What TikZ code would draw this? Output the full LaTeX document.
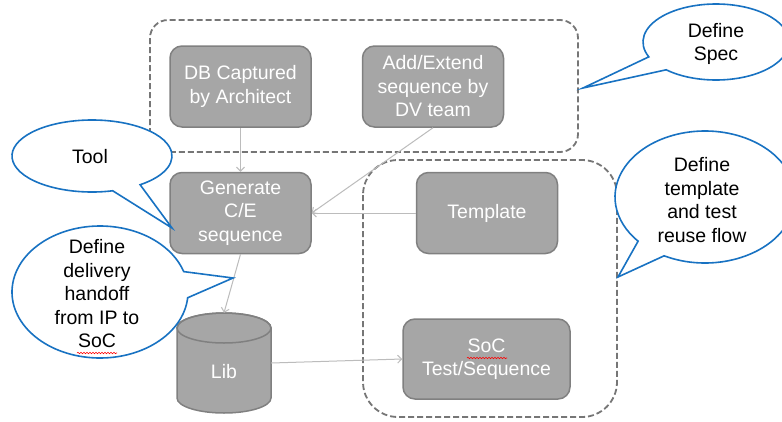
\documentclass[tikz,border=0pt]{standalone}
\usepackage{fontspec}
\setmainfont{Liberation Sans}
\usetikzlibrary{arrows.meta,decorations.pathmorphing}
\definecolor{boxfill}{RGB}{166,166,166}
\definecolor{boxline}{RGB}{128,128,128}
\definecolor{groupline}{RGB}{118,118,118}
\definecolor{linkline}{RGB}{188,188,188}
\definecolor{calloutblue}{RGB}{24,114,194}
\begin{document}
\begin{tikzpicture}[x=1pt,y=1pt,yscale=-1,
  every node/.style={font=\fontsize{19.5}{23.5}\selectfont, align=center, inner sep=0pt},
  stepbox/.style={draw=boxline, line width=1.5pt, fill=boxfill, rounded corners=12pt,
    text=white, minimum width=141pt, minimum height=81pt},
  group/.style={draw=groupline, line width=1.8pt, dash pattern=on 6pt off 3pt, rounded corners=#1},
  link/.style={draw=linkline, line width=1pt, -{Straight Barb[length=4pt,width=8pt]}},
  callout/.style={draw=calloutblue, line width=1.6pt, fill=white, line join=miter},
  callouttext/.style={text=black},
  spell/.style={draw=red, line width=0.6pt, decorate,
    decoration={snake, amplitude=0.7pt, segment length=3pt}}
]
% canvas
\fill[white] (0,0) rectangle (782,421);
\useasboundingbox (0,0) rectangle (782,421);

% dashed groupings
\draw[group=18pt] (150,20) rectangle (578,152);
\draw[group=35pt] (363,160) rectangle (617,417);

% process steps
\node[stepbox] (db)   at (240.5,86.5) {DB Captured\\by Architect};
\node[stepbox] (dv)   at (433,86.5)   {Add/Extend\\sequence by\\DV team};
\node[stepbox] (gen)  at (240.5,213)  {Generate\\C/E\\sequence};
\node[stepbox] (tmpl) at (487,213)    {Template};
\node[stepbox, minimum width=167pt, minimum height=80pt] (soc) at (486.5,359) {SoC\\Test/Sequence};

% library cylinder
\filldraw[draw=boxline, line width=1.5pt, fill=boxfill]
  (177,328) -- (177,398) arc[start angle=180, end angle=0, x radius=47, y radius=15]
  -- (271,328) arc[start angle=0, end angle=-180, x radius=47, y radius=15] -- cycle;
\draw[draw=boxline, line width=1.5pt] (224,328) ellipse [x radius=47, y radius=15];
\node[minimum width=94pt, minimum height=100pt] (lib) at (224,363) {};
\node[text=white] (libtext) at (224,372) {Lib};

% flow
\draw[link] (db.south) -- (gen.north);
\draw[link] (dv.south) -- (gen.east);
\draw[link] (tmpl.west) -- (gen.east);
\draw[link] (gen.south) -- (lib.north);
\draw[link] (lib.east) -- (soc.west);

% spell-check marks
\draw[spell] (467,358) -- (507,358);

% callouts
\coordinate (toolc) at (92,156);
\coordinate (tooltip) at (172,228);
\path[callout] ([shift={(53:80 and 36)}]toolc) -- (tooltip) -- ([shift={(75:80 and 36)}]toolc)
  arc[start angle=75, end angle=413, x radius=80, y radius=36] -- cycle;
\node[callouttext] (tooltxt) at (90,157) {Tool};

\coordinate (delc) at (100,292);
\coordinate (deltip) at (233,278);
\path[callout] ([shift={(-18:88 and 66)}]delc) -- (deltip) -- ([shift={(5:88 and 66)}]delc)
  arc[start angle=5, end angle=342, x radius=88, y radius=66] -- cycle;
\node[callouttext] (deltxt) at (97,294) {Define\\delivery\\handoff\\from IP to\\SoC};
\draw[spell] (77,353) -- (117,353);

\coordinate (specc) at (716,42);
\coordinate (spectip) at (583,88);
\path[callout] ([shift={(157:73 and 38)}]specc) -- (spectip) -- ([shift={(133:73 and 38)}]specc)
  arc[start angle=133, end angle=-203, x radius=73, y radius=38] -- cycle;
\node[callouttext] (spectxt) at (716,44) {Define\\Spec};

\coordinate (reusec) at (705,197);
\coordinate (reusetip) at (618,277);
\path[callout] ([shift={(138:90 and 66)}]reusec) -- (reusetip) -- ([shift={(117:90 and 66)}]reusec)
  arc[start angle=117, end angle=-222, x radius=90, y radius=66] -- cycle;
\node[callouttext] (reusetxt) at (702,200) {Define\\template\\and test\\reuse flow};
\end{tikzpicture}
\end{document}
